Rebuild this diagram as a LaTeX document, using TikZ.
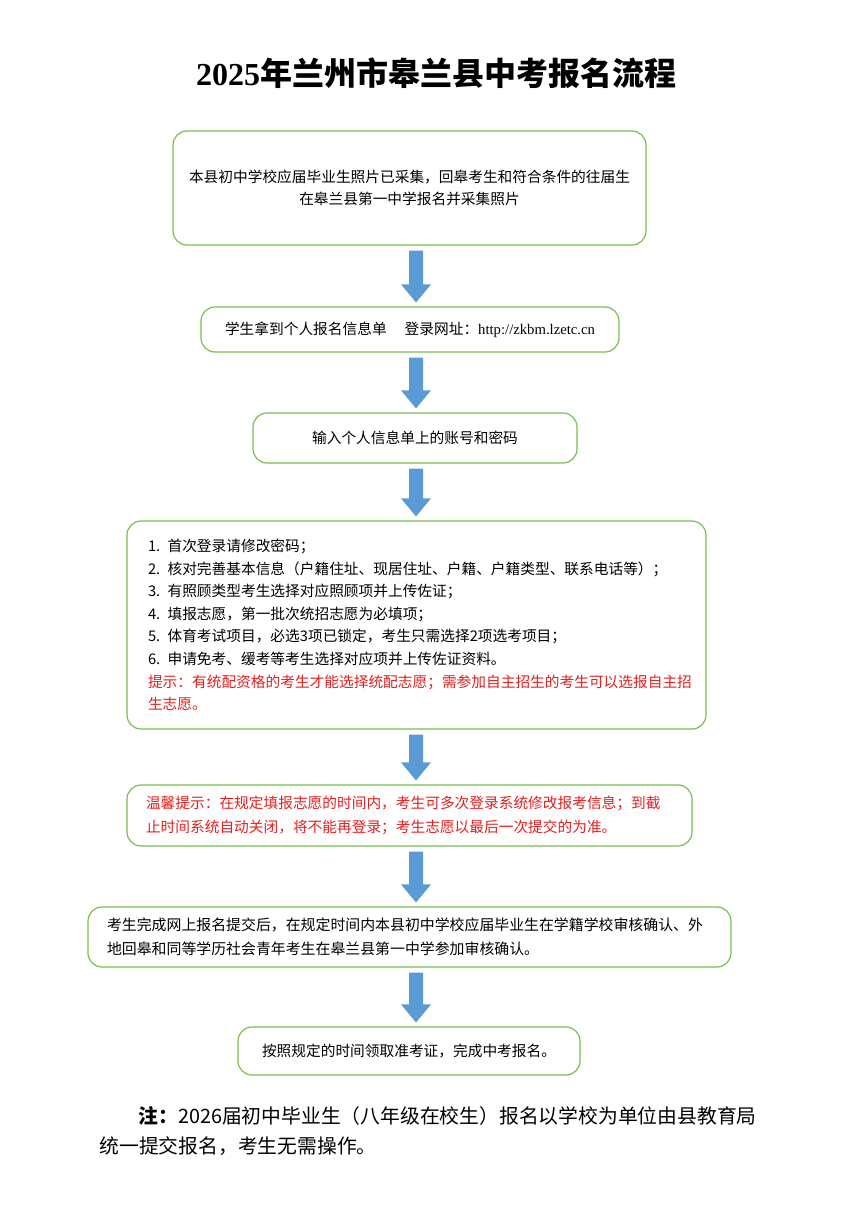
\documentclass[tikz,border=0pt]{standalone}
\usepackage{fontspec}
\setmainfont{Liberation Serif}
\newfontfamily\cjk{Noto Sans CJK SC}
\usetikzlibrary{calc}
\definecolor{gbox}{RGB}{122,190,80}
\definecolor{barrow}{RGB}{91,155,213}
\definecolor{tred}{RGB}{230,30,30}
\tikzset{
  flowbox/.style={draw=gbox,line width=1.2pt,rounded corners=14pt,inner sep=0pt,font=\cjk\fontsize{14.7}{22.6}\selectfont,align=center},
}
\newcommand{\blk}[2]{\fill[barrow] let \p1=(#1.south), \p2=(#2.north) in
  (409pt,\y1-5pt) -- (423pt,\y1-5pt) -- (423pt,\y2+22pt) -- (431pt,\y2+22pt) -- (416pt,\y2+4pt)
  -- (401pt,\y2+22pt) -- (409pt,\y2+22pt) -- cycle;}
\begin{document}
\begin{tikzpicture}[x=1pt,y=-1pt]
\useasboundingbox (0,0) rectangle (864,1221);
\node[font=\bfseries\fontsize{32}{36}\selectfont] (title) at (436,73) {2025{\cjk\bfseries 年兰州市皋兰县中考报名流程}};
\node[flowbox,minimum width=473pt,minimum height=114pt] (b1) at (409.5,188) {本县初中学校应届毕业生照片已采集，回皋考生和符合条件的往届生\\在皋兰县第一中学报名并采集照片};
\node[flowbox,minimum width=418pt,minimum height=45pt] (b2) at (410,329.5) {学生拿到个人报名信息单\quad\ 登录网址：{\rmfamily http://zkbm.lzetc.cn}};
\node[flowbox,minimum width=324pt,minimum height=50pt] (b3) at (415,438) {输入个人信息单上的账号和密码};
\node[flowbox,minimum width=579pt,minimum height=208pt,align=left,text width=537pt] (b4) at (416.5,625) {1. 首次登录请修改密码；\\2. 核对完善基本信息（户籍住址、现居住址、户籍、户籍类型、联系电话等）；\\3. 有照顾类型考生选择对应照顾项并上传佐证；\\4. 填报志愿，第一批次统招志愿为必填项；\\5. 体育考试项目，必选3项已锁定，考生只需选择2项选考项目；\\6. 申请免考、缓考等考生选择对应项并上传佐证资料。\\{\color{tred}提示：有统配资格的考生才能选择统配志愿；需参加自主招生的考生可以选报自主招}\\{\color{tred}生志愿。}};
\node[flowbox,minimum width=565pt,minimum height=61pt,align=left,text width=527pt,text=tred,font=\cjk\fontsize{14.7}{24}\selectfont] (b5) at (409.5,815.5) {温馨提示：在规定填报志愿的时间内，考生可多次登录系统修改报考信息；到截\\止时间系统自动关闭，将不能再登录；考生志愿以最后一次提交的为准。};
\node[flowbox,minimum width=643pt,minimum height=60pt,align=left,text width=605pt,font=\cjk\fontsize{14.9}{24}\selectfont] (b6) at (409.5,937) {考生完成网上报名提交后，在规定时间内本县初中学校应届毕业生在学籍学校审核确认、外\\地回皋和同等学历社会青年考生在皋兰县第一中学参加审核确认。};
\node[flowbox,minimum width=342pt,minimum height=48pt] (b7) at (409,1051) {按照规定的时间领取准考证，完成中考报名。};
\blk{b1}{b2}
\blk{b2}{b3}
\blk{b3}{b4}
\blk{b4}{b5}
\blk{b5}{b6}
\blk{b6}{b7}
\node[font=\cjk\fontsize{19.8}{30}\selectfont,align=left,text width=700pt,anchor=north west] (note) at (135,1103) {{\bfseries 注：}2026届初中毕业生（八年级在校生）报名以学校为单位由县教育局\\\hspace*{-39pt}统一提交报名，考生无需操作。};
\end{tikzpicture}
\end{document}
